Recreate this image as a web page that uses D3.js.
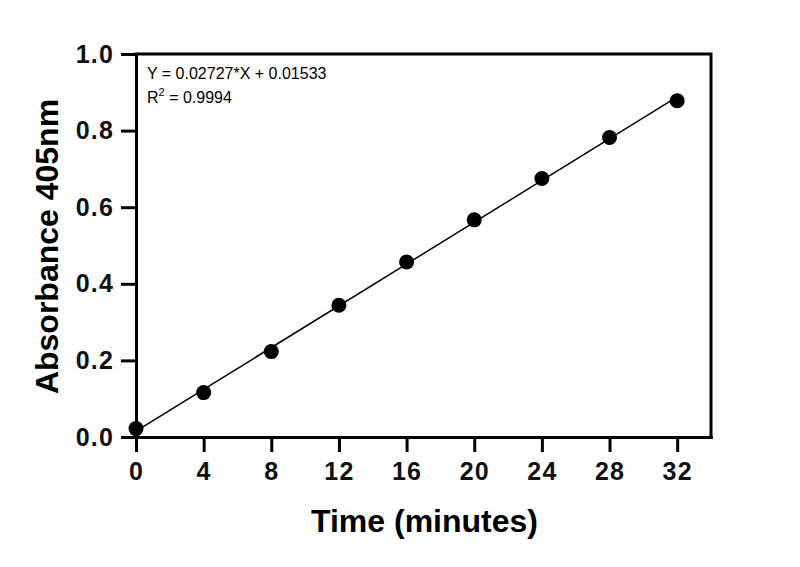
<!DOCTYPE html>
<html>
<head>
<meta charset="utf-8">
<script src="https://cdn.jsdelivr.net/npm/d3@7"></script>
<style>
  body { margin: 0; background: #fff; }
  svg { font-family: "Liberation Sans", Arial, sans-serif; }
</style>
</head>
<body>
<div id="chart"></div>
<script>
const w = 800;
const h = 567;
const margin = {top: 54, right: 89, bottom: 130, left: 136};

// data
const times = [0, 4, 8, 12, 16, 20, 24, 28, 32];
const absorbance = [0.022, 0.116, 0.223, 0.344, 0.457, 0.567, 0.675, 0.782, 0.878];
const xTicks = [0, 4, 8, 12, 16, 20, 24, 28, 32];
const yTicks = [0, 0.2, 0.4, 0.6, 0.8, 1.0];
const slope = 0.02727;
const intercept = 0.01533;
const eqText = "Y = 0.02727*X + 0.01533";
const r2Value = "0.9994";

const plotW = w - margin.left - margin.right;
const plotH = h - margin.top - margin.bottom;

const svg = d3.select("#chart")
  .append("svg")
  .attr("width", w)
  .attr("height", h);

const g = svg.append("g")
  .attr("transform", `translate(${margin.left},${margin.top})`);

const x = d3.scaleLinear().domain([0, 34]).range([0, plotW]);
const y = d3.scaleLinear().domain([0, 1]).range([plotH, 0]);

//frame top and right
g.append("path")
  .attr("d", `M0,0H${plotW}V${plotH}`)
  .attr("fill", "none")
  .attr("stroke", "#000")
  .attr("stroke-width", 3)
  .attr("stroke-linecap", "square");

//axes
const xAxis = d3.axisBottom(x).tickValues(xTicks).tickSize(15).tickSizeOuter(0).tickPadding(10)
  .tickFormat(d3.format("d"));
const yAxis = d3.axisLeft(y).tickValues(yTicks).tickSize(15).tickSizeOuter(0).tickPadding(7)
  .tickFormat(d3.format(".1f"));

const gx = g.append("g").attr("transform", `translate(0,${plotH})`).call(xAxis);
const gy = g.append("g").call(yAxis);

[gx, gy].forEach(ax => {
  ax.select(".domain").attr("stroke-width", 3).attr("stroke-linecap", "square");
  ax.selectAll(".tick line").attr("stroke-width", 3);
  ax.selectAll(".tick text")
    .attr("font-family", "Liberation Sans, Arial, sans-serif")
    .attr("font-size", 25)
    .attr("font-weight", "bold")
    .attr("letter-spacing", 1.2)
    .attr("fill", "#111");
});

//fitted line
g.append("line")
  .attr("x1", x(0)).attr("y1", y(intercept))
  .attr("x2", x(32)).attr("y2", y(slope * 32 + intercept))
  .attr("stroke", "#000")
  .attr("stroke-width", 1.5);

//points
g.selectAll(".dot")
  .data(times.map((t, i) => [t, absorbance[i]]))
  .enter().append("circle")
  .attr("class", "dot")
  .attr("cx", d => x(d[0]))
  .attr("cy", d => y(d[1]))
  .attr("r", 7.5)
  .attr("fill", "#000");

//equation
g.append("text")
  .attr("x", 11).attr("y", 25)
  .attr("font-size", 16)
  .text(eqText);
const r2 = g.append("text")
  .attr("x", 11).attr("y", 49)
  .attr("font-size", 16);
r2.append("tspan").text("R");
r2.append("tspan").attr("font-size", 11).attr("dy", -7).text("2");
r2.append("tspan").attr("dy", 7).text(" = " + r2Value);

//axis titles
svg.append("text")
  .attr("x", margin.left + plotW / 2 + 1)
  .attr("y", 532)
  .attr("text-anchor", "middle")
  .attr("font-size", 32)
  .attr("font-weight", "bold")
  .text("Time (minutes)");

svg.append("text")
  .attr("transform", `translate(58,${margin.top + plotH / 2 + 1}) rotate(-90)`)
  .attr("text-anchor", "middle")
  .attr("font-size", 32)
  .attr("font-weight", "bold")
  .text("Absorbance 405nm");
</script>
</body>
</html>
